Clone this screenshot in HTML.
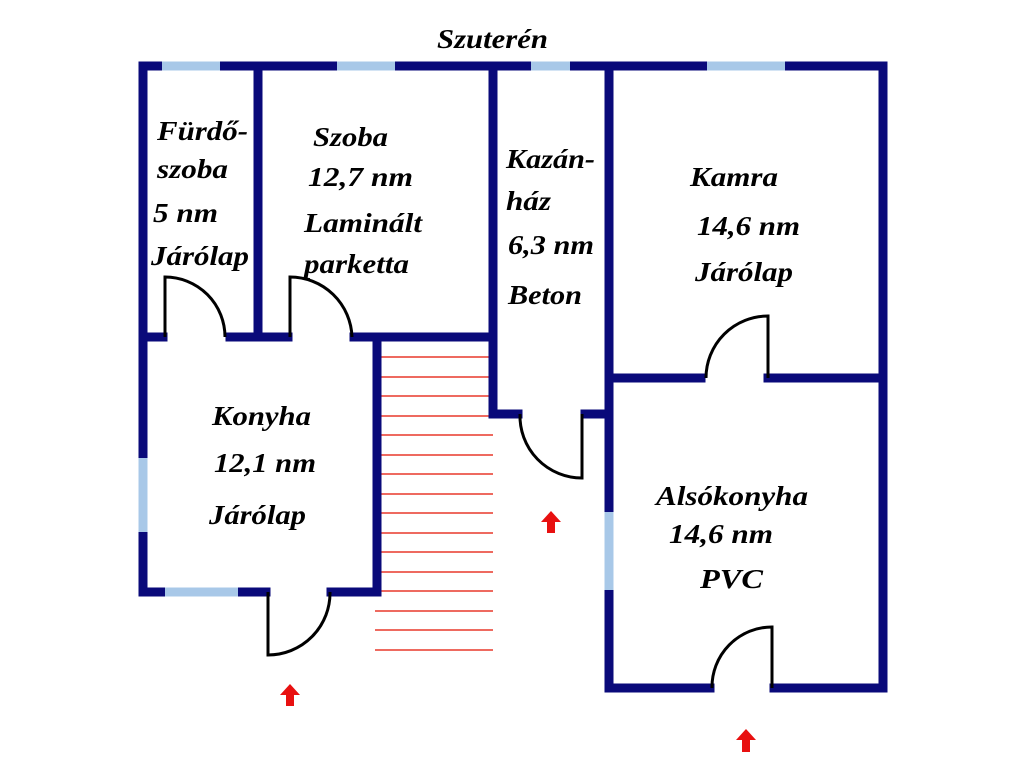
<!DOCTYPE html>
<html><head><meta charset="utf-8"><style>
html,body{margin:0;padding:0;background:#fff;}
svg{display:block}
text{font-family:"Liberation Serif",serif;font-weight:bold;font-style:italic;font-size:27px;fill:#000}
</style></head><body>
<svg width="1024" height="768" viewBox="0 0 1024 768" xmlns="http://www.w3.org/2000/svg">
<rect width="1024" height="768" fill="#fff"/>
<g stroke="#ee6a60" stroke-width="2">
<line x1="380" y1="357" x2="493" y2="357"/><line x1="380" y1="377" x2="493" y2="377"/>
<line x1="380" y1="396" x2="493" y2="396"/><line x1="380" y1="416" x2="493" y2="416"/>
<line x1="380" y1="435" x2="493" y2="435"/><line x1="380" y1="455" x2="493" y2="455"/>
<line x1="380" y1="474" x2="493" y2="474"/><line x1="380" y1="494" x2="493" y2="494"/>
<line x1="380" y1="513" x2="493" y2="513"/><line x1="380" y1="533" x2="493" y2="533"/>
<line x1="380" y1="552" x2="493" y2="552"/><line x1="380" y1="572" x2="493" y2="572"/>
<line x1="380" y1="591" x2="493" y2="591"/><line x1="375" y1="611" x2="493" y2="611"/>
<line x1="375" y1="630" x2="493" y2="630"/><line x1="375" y1="650" x2="493" y2="650"/>
</g>
<g stroke="#0a0a7a" stroke-width="9" stroke-linecap="square" fill="none">
<line x1="143" y1="66" x2="883" y2="66"/>
<line x1="143" y1="66" x2="143" y2="592"/>
<line x1="258" y1="66" x2="258" y2="337"/>
<line x1="493" y1="66" x2="493" y2="414"/>
<line x1="609" y1="66" x2="609" y2="688"/>
<line x1="883" y1="66" x2="883" y2="688"/>
<line x1="143" y1="337" x2="163" y2="337"/>
<line x1="230" y1="337" x2="288" y2="337"/>
<line x1="354" y1="337" x2="493" y2="337"/>
<line x1="377" y1="337" x2="377" y2="592"/>
<line x1="143" y1="592" x2="266" y2="592"/>
<line x1="331" y1="592" x2="377" y2="592"/>
<line x1="493" y1="414" x2="518" y2="414"/>
<line x1="585" y1="414" x2="609" y2="414"/>
<line x1="609" y1="378" x2="701" y2="378"/>
<line x1="768" y1="378" x2="883" y2="378"/>
<line x1="609" y1="688" x2="710" y2="688"/>
<line x1="774" y1="688" x2="883" y2="688"/>
</g>
<g stroke="#a8c8e8" stroke-width="9">
<line x1="162" y1="66" x2="220" y2="66"/>
<line x1="337" y1="66" x2="395" y2="66"/>
<line x1="531" y1="66" x2="570" y2="66"/>
<line x1="707" y1="66" x2="785" y2="66"/>
<line x1="143" y1="458" x2="143" y2="532"/>
<line x1="165" y1="592" x2="238" y2="592"/>
<line x1="609" y1="512" x2="609" y2="590"/>
</g>
<g stroke="#000" stroke-width="3" fill="none">
<path d="M165 337 V277 A60 60 0 0 1 225 337"/>
<path d="M290 337 V277 A62 62 0 0 1 352 337"/>
<path d="M768 378 V316 A62 62 0 0 0 706 378"/>
<path d="M268 592 V655 A62 62 0 0 0 330 592"/>
<path d="M582 414 V478 A62 62 0 0 1 520 414"/>
<path d="M772 688 V627 A60 60 0 0 0 712 688"/>
</g>
<g fill="#e81010">
<path d="M290 684 L280 695 H286 V706 H294 V695 H300 Z"/>
<path d="M551 511 L541 522 H547 V533 H555 V522 H561 Z"/>
<path d="M746 729 L736 740 H742 V752 H750 V740 H756 Z"/>
</g>
<g lengthAdjust="spacingAndGlyphs">
<text x="437" y="48" font-size="25" textLength="111" lengthAdjust="spacingAndGlyphs">Szuterén</text>
<text x="157" y="140" textLength="91" lengthAdjust="spacingAndGlyphs">Fürdő-</text>
<text x="157" y="178" textLength="71" lengthAdjust="spacingAndGlyphs">szoba</text>
<text x="153" y="222" textLength="65" lengthAdjust="spacingAndGlyphs">5 nm</text>
<text x="151" y="265" textLength="98" lengthAdjust="spacingAndGlyphs">Járólap</text>
<text x="313" y="146" textLength="75" lengthAdjust="spacingAndGlyphs">Szoba</text>
<text x="308" y="186" textLength="105" lengthAdjust="spacingAndGlyphs">12,7 nm</text>
<text x="304" y="232" textLength="118" lengthAdjust="spacingAndGlyphs">Laminált</text>
<text x="304" y="273" textLength="105" lengthAdjust="spacingAndGlyphs">parketta</text>
<text x="506" y="168" textLength="89" lengthAdjust="spacingAndGlyphs">Kazán-</text>
<text x="506" y="210" textLength="45" lengthAdjust="spacingAndGlyphs">ház</text>
<text x="508" y="254" textLength="86" lengthAdjust="spacingAndGlyphs">6,3 nm</text>
<text x="508" y="304" textLength="74" lengthAdjust="spacingAndGlyphs">Beton</text>
<text x="690" y="186" textLength="88" lengthAdjust="spacingAndGlyphs">Kamra</text>
<text x="697" y="235" textLength="103" lengthAdjust="spacingAndGlyphs">14,6 nm</text>
<text x="695" y="281" textLength="98" lengthAdjust="spacingAndGlyphs">Járólap</text>
<text x="212" y="425" textLength="99" lengthAdjust="spacingAndGlyphs">Konyha</text>
<text x="214" y="472" textLength="102" lengthAdjust="spacingAndGlyphs">12,1 nm</text>
<text x="209" y="524" textLength="97" lengthAdjust="spacingAndGlyphs">Járólap</text>
<text x="656" y="505" textLength="152" lengthAdjust="spacingAndGlyphs">Alsókonyha</text>
<text x="669" y="543" textLength="104" lengthAdjust="spacingAndGlyphs">14,6 nm</text>
<text x="700" y="588" textLength="63" lengthAdjust="spacingAndGlyphs">PVC</text>
</g>
</svg>
</body></html>
